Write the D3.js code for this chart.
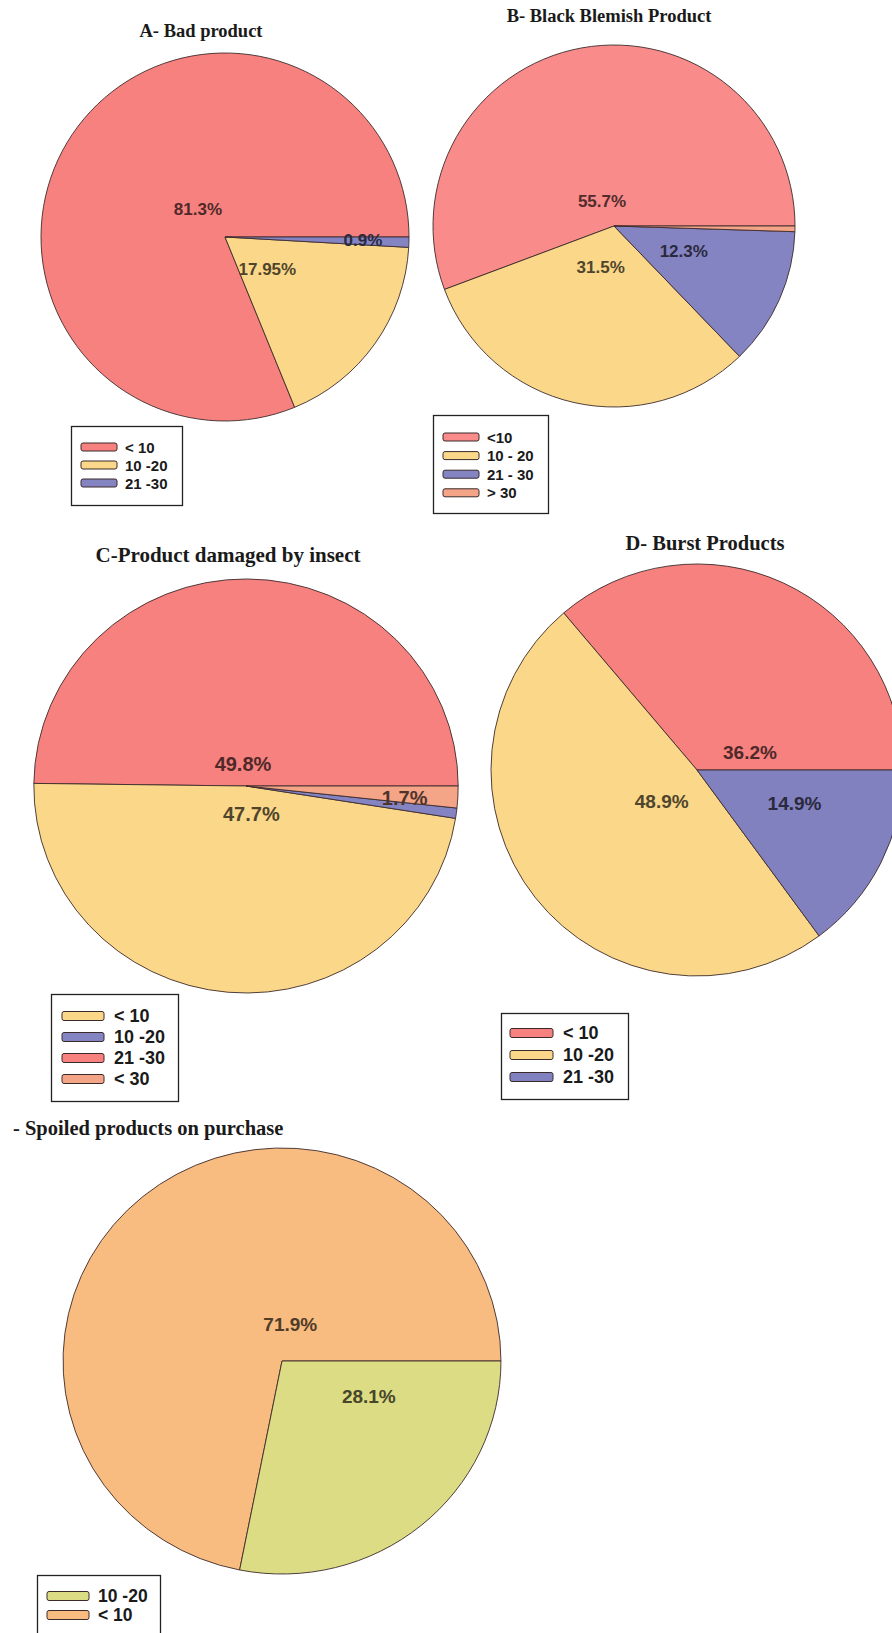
<!DOCTYPE html>
<html>
<head>
<meta charset="utf-8">
<script src="https://cdn.jsdelivr.net/npm/d3@7"></script>
<style>
  html, body { margin: 0; padding: 0; background: #fff; }
  svg { display: block; }
</style>
</head>
<body>
<svg id="chart" width="892" height="1633"></svg>
<script>
// ---- data ----
const titleA = "A- Bad product";
const catsA  = ["< 10", "10 -20", "21 -30"];
const valsA  = [81.3, 17.95, 0.9];
const showA  = [true, true, true];
const orderA = [0, 1, 2];

const titleB = "B- Black Blemish Product";
const catsB  = ["<10", "10 - 20", "21 - 30", "> 30"];
const valsB  = [55.7, 31.5, 12.3, 0.5];
const showB  = [true, true, true, false];
const orderB = [0, 1, 2, 3];

const titleC = "C-Product damaged by insect";
const catsC  = ["< 10", "10 -20", "21 -30", "< 30"];
const valsC  = [47.7, 0.8, 49.8, 1.7];
const showC  = [true, false, true, true];
const orderC = [2, 0, 1, 3];

const titleD = "D- Burst Products";
const catsD  = ["< 10", "10 -20", "21 -30"];
const valsD  = [36.2, 48.9, 14.9];
const showD  = [true, true, true];
const orderD = [0, 1, 2];

const titleE = "- Spoiled products on purchase";
const catsE  = ["10 -20", "< 10"];
const valsE  = [28.1, 71.9];
const showE  = [true, true];
const orderE = [1, 0];

// ---- palette ----
const RED = "#f7817f", YELLOW = "#fbd889", BLUE = "#8584c3",
      SALMON = "#f4a487", ORANGE = "#f8bb80", OLIVE = "#dcdc85";
const colorsA = [RED, YELLOW, BLUE];
const colorsB = ["#f98b8a", YELLOW, BLUE, SALMON];
const colorsC = [YELLOW, BLUE, RED, SALMON];
const colorsD = [RED, YELLOW, "#8281c0"];
const colorsE = [OLIVE, ORANGE];

// ---- layout ----
const svg = d3.select("#chart");
svg.append("rect").attr("width", 892).attr("height", 1633).attr("fill", "#fff");

// label placement inside each slice: [fraction along slice angle, fraction of radius]
const labelPosA = [[0.46, 0.21], [0.47, 0.29], [0.5, 0.75]];
const labelPosB = [[0.58, 0.15], [0.455, 0.24], [0.59, 0.41], null];
const labelPosC = [[0.59, 0.136], null, [0.545, 0.106], [0.28, 0.75]];
const labelPosD = [[0.137, 0.27], [0.52, 0.23], [0.65, 0.50]];
const labelPosE = [[0.775, 0.43], [0.30, 0.176]];

function drawPie(cfg) {
  const { cats, vals, colors, order, show, labelPos,
          cx, cy, r, sx, labelSize } = cfg;
  const items = order.map(i => ({ i, cat: cats[i], v: vals[i], color: colors[i] }));
  // slices run counter-clockwise starting at 3 o'clock
  const pie = d3.pie().value(d => d.v).sort(null)
    .startAngle(Math.PI / 2).endAngle(Math.PI / 2 - 2 * Math.PI);
  const arcs = pie(items);
  const arc = d3.arc().innerRadius(0).outerRadius(r);

  const g = svg.append("g").attr("transform", `translate(${cx},${cy}) scale(${sx},1)`);
  g.selectAll("path").data(arcs).join("path")
    .attr("d", arc)
    .attr("fill", d => d.data.color)
    .attr("stroke", "#3d2b2b")
    .attr("stroke-width", 0.9)
    .attr("stroke-linejoin", "round")
    .attr("vector-effect", "non-scaling-stroke");

  const lg = svg.append("g").attr("transform", `translate(${cx},${cy})`);
  const lblArc = d3.arc();
  arcs.forEach(d => {
    const i = d.data.i;
    if (!show[i] || !labelPos[i]) return;
    const [t, rf] = labelPos[i];
    const a = d.startAngle + t * (d.endAngle - d.startAngle);
    const [x, y] = lblArc.centroid({ startAngle: a, endAngle: a, innerRadius: rf * r, outerRadius: rf * r });
    lg.append("text")
      .attr("x", x * sx).attr("y", y)
      .attr("text-anchor", "middle")
      .attr("dominant-baseline", "central")
      .attr("font-family", "'Liberation Sans', Arial, sans-serif")
      .attr("font-weight", "bold")
      .attr("font-size", labelSize)
      .attr("fill", d3.color(d.data.color).darker(3.2))
      .text(`${d.data.v}%`);
  });
}

function drawTitle(text, x, y, size, anchor) {
  svg.append("text")
    .attr("x", x).attr("y", y)
    .attr("text-anchor", anchor)
    .attr("font-family", "'Liberation Serif', 'Times New Roman', serif")
    .attr("font-weight", "bold")
    .attr("font-size", size)
    .attr("fill", "#1a1a1a")
    .text(text);
}

function drawLegend(cfg) {
  const { cats, colors, x, y, w, h, rowTop, step, swX, swW, swH, txX, size } = cfg;
  const g = svg.append("g").attr("transform", `translate(${x},${y})`);
  g.append("rect").attr("x", 0.5).attr("y", 0.5).attr("width", w).attr("height", h)
    .attr("fill", "#fff").attr("stroke", "#222").attr("stroke-width", 1.3);
  const rows = g.selectAll("g.row").data(cats).join("g")
    .attr("transform", (d, i) => `translate(0,${rowTop + i * step})`);
  rows.append("rect")
    .attr("x", swX).attr("y", -swH / 2).attr("width", swW).attr("height", swH)
    .attr("rx", 2)
    .attr("fill", (d, i) => colors[i])
    .attr("stroke", "#3a2a2a").attr("stroke-width", 1);
  rows.append("text")
    .attr("x", txX).attr("y", 0)
    .attr("dominant-baseline", "central")
    .attr("font-family", "'Liberation Sans', Arial, sans-serif")
    .attr("font-weight", "bold")
    .attr("font-size", size)
    .attr("fill", "#1a1a1a")
    .text(d => d);
}

// ---- A ----
drawTitle(titleA, 201, 37, 18.5, "middle");
drawPie({ cats: catsA, vals: valsA, colors: colorsA, order: orderA, show: showA,
  labelPos: labelPosA, cx: 225, cy: 237, r: 184, sx: 1, labelSize: 17 });
drawLegend({ cats: catsA, colors: colorsA, x: 71, y: 426, w: 111, h: 79,
  rowTop: 21, step: 18, swX: 10, swW: 36, swH: 8, txX: 54, size: 15 });

// ---- B ----
drawTitle(titleB, 609, 22, 18.5, "middle");
drawPie({ cats: catsB, vals: valsB, colors: colorsB, order: orderB, show: showB,
  labelPos: labelPosB, cx: 614, cy: 226, r: 181, sx: 1, labelSize: 17 });
drawLegend({ cats: catsB, colors: colorsB, x: 433, y: 415, w: 115, h: 98,
  rowTop: 22, step: 18.6, swX: 10, swW: 36, swH: 8, txX: 54, size: 15 });

// ---- C ----
drawTitle(titleC, 228, 562, 21, "middle");
drawPie({ cats: catsC, vals: valsC, colors: colorsC, order: orderC, show: showC,
  labelPos: labelPosC, cx: 246, cy: 786, r: 207, sx: 1.025, labelSize: 20 });
drawLegend({ cats: catsC, colors: colorsC, x: 51, y: 994, w: 127, h: 107,
  rowTop: 22, step: 21, swX: 11, swW: 42, swH: 9, txX: 63, size: 18 });

// ---- D ----
drawTitle(titleD, 705, 550, 20.5, "middle");
drawPie({ cats: catsD, vals: valsD, colors: colorsD, order: orderD, show: showD,
  labelPos: labelPosD, cx: 697, cy: 770, r: 206, sx: 1, labelSize: 19 });
drawLegend({ cats: catsD, colors: colorsD, x: 501, y: 1013, w: 127, h: 86,
  rowTop: 20, step: 22, swX: 9, swW: 43, swH: 9, txX: 62, size: 18 });

// ---- E ----
drawTitle(titleE, 13, 1135, 20.5, "start");
drawPie({ cats: catsE, vals: valsE, colors: colorsE, order: orderE, show: showE,
  labelPos: labelPosE, cx: 282, cy: 1361, r: 213, sx: 1.028, labelSize: 19 });
drawLegend({ cats: catsE, colors: colorsE, x: 37, y: 1575, w: 123, h: 70,
  rowTop: 21, step: 19, swX: 10, swW: 42, swH: 9, txX: 61, size: 17.5 });
</script>
</body>
</html>
